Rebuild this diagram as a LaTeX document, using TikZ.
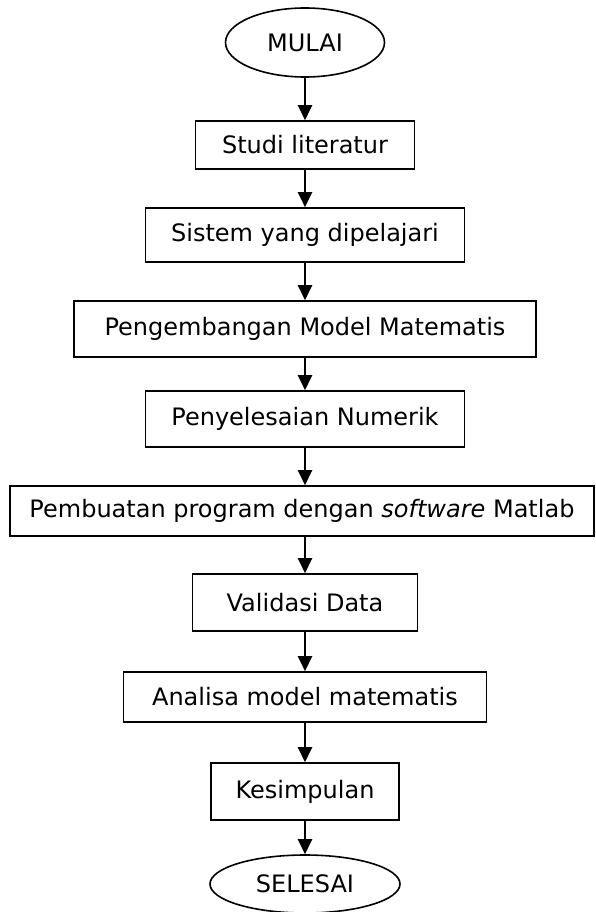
\documentclass[tikz,border=0pt]{standalone}
\usepackage{fontspec}
\setmainfont{DejaVu Sans}
\usetikzlibrary{shapes.geometric,arrows.meta}

\begin{document}
\begin{tikzpicture}[x=1pt, y=-1pt, font=\fontsize{24}{28}\selectfont,
  kotak/.style={rectangle, draw, line width=1.6pt, inner sep=0pt},
  terminal/.style={ellipse, draw, line width=1.6pt, inner sep=0pt},
  panah/.style={line width=2.4pt, -{Triangle[length=15pt,width=14pt]}}]
\useasboundingbox (0,0) rectangle (595,912);
% Mulai
\node[terminal, minimum width=159pt, minimum height=69pt] (mulai) at (305,42.5) {MULAI};
% Tahapan
\node[kotak, minimum width=219pt, minimum height=48pt] (studi) at (305,145) {Studi literatur};
\node[kotak, minimum width=319pt, minimum height=54pt] (sistem) at (305,235) {Sistem yang dipelajari};
\node[kotak, minimum width=462pt, minimum height=56pt] (model) at (305,329) {Pengembangan Model Matematis};
\node[kotak, minimum width=319pt, minimum height=56pt] (numerik) at (305,419) {Penyelesaian Numerik};
\node[kotak, minimum width=584pt, minimum height=50pt] (program) at (302,511) {Pembuatan program dengan \textit{software} Matlab};
\node[kotak, minimum width=225pt, minimum height=57pt] (validasi) at (305,602.5) {Validasi Data};
\node[kotak, minimum width=363pt, minimum height=50pt] (analisa) at (305,697) {Analisa model matematis};
\node[kotak, minimum width=188pt, minimum height=57pt] (simpul) at (305,791.5) {Kesimpulan};
% Selesai
\node[terminal, minimum width=190pt, minimum height=58pt] (selesai) at (305,884) {SELESAI};

\draw[panah] (mulai) -- (studi);
\draw[panah] (studi) -- (sistem);
\draw[panah] (sistem) -- (model);
\draw[panah] (model) -- (numerik);
\draw[panah] (numerik) -- (numerik.south |- program.north);
\draw[panah] (program.south -| validasi.north) -- (validasi);
\draw[panah] (validasi) -- (analisa);
\draw[panah] (analisa) -- (simpul);
\draw[panah] (simpul) -- (selesai);
\end{tikzpicture}
\end{document}
